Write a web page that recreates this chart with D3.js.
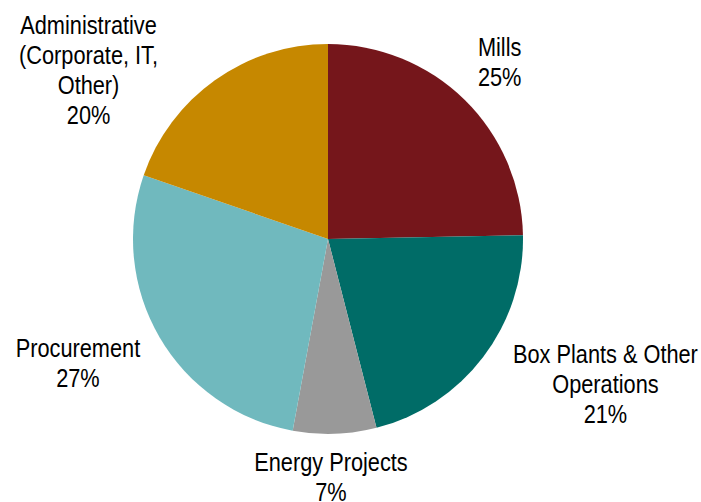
<!DOCTYPE html>
<html>
<head>
<meta charset="utf-8">
<script src="https://cdn.jsdelivr.net/npm/d3@7/dist/d3.min.js"></script>
<style>
  html, body { margin: 0; padding: 0; background: #fff; }
  svg { display: block; }
  text { font-family: "Liberation Sans Narrow", "Arial Narrow", "Liberation Sans", Arial, sans-serif; }
</style>
</head>
<body>
<div id="chart"></div>
<script>
// Spend breakdown by area (share of total, %)
const categories = ["Mills", "Box Plants & Other Operations", "Energy Projects", "Procurement", "Administrative (Corporate, IT, Other)"];
const values = [24.7, 21.3, 6.9, 27.4, 19.7];
const valueLabels = ["25%", "21%", "7%", "27%", "20%"];
const labelLines = [
  ["Mills"],
  ["Box Plants & Other", "Operations"],
  ["Energy Projects"],
  ["Procurement"],
  ["Administrative", "(Corporate, IT,", "Other)"]
];
const colors = ["#75161B", "#006C67", "#999999", "#70B9BE", "#C68800"];

const width = 701, height = 502;
const cx = 328, cy = 239, radius = 195;

// label placement: nudges from the centroid of an outer label ring
const labelRing = radius * 1.33;
const labelNudge = [
  [-10, 2], [71, -33], [-6, -27], [-26, -13], [-89, 6]
];
const lineHeight = 30;
// condensed look for the label face
const squeeze = 0.87;

const svg = d3.select("#chart").append("svg")
  .attr("width", width).attr("height", height);

const g = svg.append("g").attr("transform", `translate(${cx},${cy})`);

const data = categories.map((c, i) => ({ name: c, value: values[i], i }));

const pie = d3.pie().value(d => d.value).sort(null);
const arcs = pie(data);

const arc = d3.arc().innerRadius(0).outerRadius(radius);
const labelArc = d3.arc().innerRadius(labelRing).outerRadius(labelRing);

g.selectAll("path.slice")
  .data(arcs)
  .join("path")
  .attr("class", "slice")
  .attr("d", arc)
  .attr("fill", d => colors[d.data.i]);

g.selectAll("text.label")
  .data(arcs)
  .join("text")
  .attr("class", "label")
  .attr("text-anchor", "middle")
  .attr("font-size", 25)
  .attr("fill", "#000")
  .each(function(d) {
    const [x0, y0] = labelArc.centroid(d);
    const [nx, ny] = labelNudge[d.data.i];
    const x = x0 + nx, y = y0 + ny;
    const lines = labelLines[d.data.i].concat([valueLabels[d.data.i]]);
    const t = d3.select(this)
      .attr("transform", `translate(${x},${y}) scale(${squeeze},1)`);
    lines.forEach((ln, k) => {
      t.append("tspan").attr("x", 0).attr("y", k * lineHeight).text(ln);
    });
  });
</script>
</body>
</html>
